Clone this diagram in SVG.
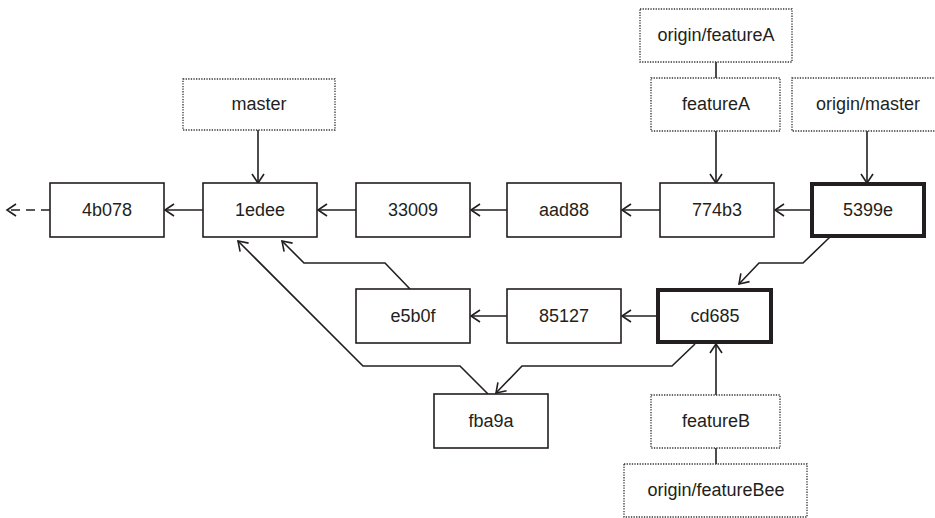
<svg xmlns="http://www.w3.org/2000/svg" width="935" height="518" viewBox="0 0 935 518">
<style>
.c rect{fill:#fff;stroke:#231f20;stroke-width:1.6}
.c.h rect{stroke-width:4}
.r rect{fill:#fff;stroke:#333;stroke-width:1.3;stroke-dasharray:1.3 1.3}
text{font-family:"Liberation Sans",Arial,sans-serif;font-size:18px;fill:#231f20;text-anchor:middle}
#edges path{fill:none;stroke:#231f20;stroke-width:1.6}
</style>
<defs>
<marker id="a" markerWidth="14" markerHeight="14" refX="12" refY="7" orient="auto" markerUnits="userSpaceOnUse">
<path d="M3,1 L12,7 L3,13" fill="none" stroke="#231f20" stroke-width="1.6"/>
</marker>
</defs>
<g id="edges">
<path d="M50,210 H7" stroke-dasharray="9 6" marker-end="url(#a)"/>
<path d="M203,210 H165" marker-end="url(#a)"/>
<path d="M356,210 H318" marker-end="url(#a)"/>
<path d="M507,210 H471" marker-end="url(#a)"/>
<path d="M660,210 H622" marker-end="url(#a)"/>
<path d="M811,210 H775" marker-end="url(#a)"/>
<path d="M258,130 V183" marker-end="url(#a)"/>
<path d="M716,131 V183" marker-end="url(#a)"/>
<path d="M867,131 V183" marker-end="url(#a)"/>
<path d="M716,62 V78"/>
<path d="M830,237 L803,263 H759 L739,284" marker-end="url(#a)"/>
<path d="M410,289 L385,263 H304 L282,241" marker-end="url(#a)"/>
<path d="M488,394 L460,366 H363 L238,241" marker-end="url(#a)"/>
<path d="M695,344 L672,366 H522 L496,393" marker-end="url(#a)"/>
<path d="M716,395 V344" marker-end="url(#a)"/>
<path d="M716,448 V464"/>
<path d="M507,316 H471" marker-end="url(#a)"/>
<path d="M657,316 H622" marker-end="url(#a)"/>
</g>
<g id="n4b078" class="c"><rect x="50" y="183" width="114" height="54"/><text x="107" y="216">4b078</text></g>
<g id="n1edee" class="c"><rect x="203" y="183" width="114" height="54"/><text x="260" y="216">1edee</text></g>
<g id="n33009" class="c"><rect x="356" y="183" width="114" height="54"/><text x="413" y="216">33009</text></g>
<g id="naad88" class="c"><rect x="507" y="183" width="114" height="54"/><text x="564" y="216">aad88</text></g>
<g id="n774b3" class="c"><rect x="660" y="183" width="114" height="54"/><text x="717" y="216">774b3</text></g>
<g id="n5399e" class="c h"><rect x="812" y="184" width="112" height="52"/><text x="868" y="216">5399e</text></g>
<g id="ne5b0f" class="c"><rect x="356" y="289" width="114" height="54"/><text x="413" y="322">e5b0f</text></g>
<g id="n85127" class="c"><rect x="507" y="289" width="114" height="54"/><text x="564" y="322">85127</text></g>
<g id="ncd685" class="c h"><rect x="658" y="290" width="113" height="52"/><text x="715" y="322">cd685</text></g>
<g id="nfba9a" class="c"><rect x="434" y="394" width="114" height="54"/><text x="491" y="427">fba9a</text></g>
<g id="master" class="r"><rect x="183" y="79" width="152" height="51"/><text x="259" y="110">master</text></g>
<g id="originFeatureA" class="r"><rect x="640" y="9" width="152" height="53"/><text x="716" y="41">origin/featureA</text></g>
<g id="featureA" class="r"><rect x="651" y="78" width="129" height="53"/><text x="716" y="110">featureA</text></g>
<g id="originMaster" class="r"><rect x="792" y="78" width="150" height="53"/><text x="868" y="110">origin/master</text></g>
<g id="featureB" class="r"><rect x="651" y="395" width="129" height="53"/><text x="716" y="427">featureB</text></g>
<g id="originFeatureBee" class="r"><rect x="624" y="464" width="183" height="53"/><text x="716" y="496">origin/featureBee</text></g>
</svg>
